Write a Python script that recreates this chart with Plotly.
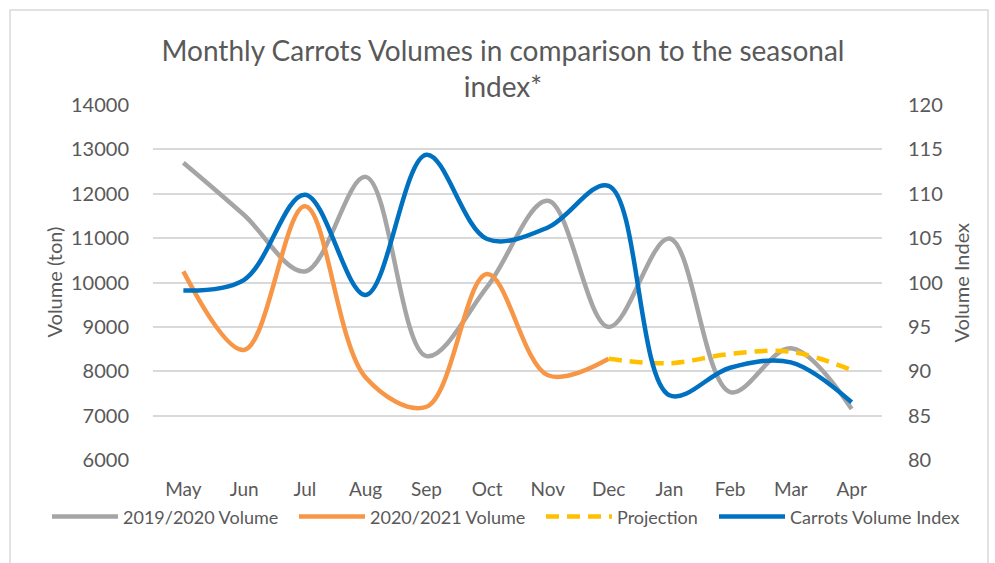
import plotly.graph_objects as go

months = ["May", "Jun", "Jul", "Aug", "Sep", "Oct", "Nov", "Dec", "Jan", "Feb", "Mar", "Apr"]
vol_2019_2020 = [12700, 11520, 10250, 12380, 8340, 9900, 11840, 9000, 10990, 7530, 8520, 7150]
vol_2020_2021 = [10250, 8480, 11720, 7860, 7200, 10190, 7910, 8280, None, None, None, None]
projection = [None, None, None, None, None, None, None, 8280, 8180, 8390, 8440, 8030]
volume_index = [99.1, 100.3, 109.9, 98.6, 114.4, 104.9, 106.2, 110.9, 87.3, 90.4, 91.0, 86.5]

left_ticks = list(range(6000, 14001, 1000))
left_labels = [str(v) for v in left_ticks]
right_ticks = list(range(80, 121, 5))
right_labels = [str(v) for v in right_ticks]

TEXT = "#595959"
FONT = "Lato"
PLOT_L, PLOT_W = 153, 729

fig = go.Figure()
fig.add_trace(go.Scatter(x=months, y=vol_2019_2020, name="2019/2020 Volume", mode="lines", legend="legend",
                         line=dict(color="#A5A5A5", width=4.5, shape="spline", smoothing=1)))
fig.add_trace(go.Scatter(x=months, y=vol_2020_2021, name="2020/2021 Volume", mode="lines", legend="legend2",
                         line=dict(color="#F79646", width=4.5, shape="spline", smoothing=1)))
fig.add_trace(go.Scatter(x=months, y=projection, name="Projection", mode="lines", legend="legend3",
                         line=dict(color="#FFC000", width=4.5, shape="spline", smoothing=1, dash="13px,8px")))
fig.add_trace(go.Scatter(x=months, y=volume_index, name="Carrots Volume Index", mode="lines", yaxis="y2",
                         legend="legend4",
                         line=dict(color="#0070C0", width=4.5, shape="spline", smoothing=1)))


def legend_at(px_left):
    return dict(orientation="h", x=(px_left - PLOT_L) / PLOT_W, xanchor="left", y=-0.16, yanchor="middle",
                font=dict(size=18, color=TEXT, family=FONT), itemwidth=66, bgcolor="rgba(0,0,0,0)")


fig.update_layout(
    width=995, height=563,
    margin=dict(l=153, r=113, t=105, b=103),
    paper_bgcolor="white", plot_bgcolor="white",
    font=dict(family=FONT, color=TEXT, size=18),
    title=dict(text="Monthly Carrots Volumes in comparison to the seasonal<br>index*",
               x=0.5055, xref="container", xanchor="center",
               y=1 - 61 / 563, yref="container", yanchor="middle",
               font=dict(family=FONT, size=28, color=TEXT)),
    xaxis=dict(type="category", range=[-0.5, 11.5], showgrid=False, showline=False, zeroline=False,
               ticks="", tickfont=dict(size=19, color=TEXT), ticklabelstandoff=16, automargin=False),
    yaxis=dict(range=[6000, 14000], tickvals=left_ticks, ticktext=left_labels, showgrid=True,
               gridcolor="#D9D9D9", gridwidth=1.5, automargin=False,
               zeroline=False, showline=False, ticks="", tickfont=dict(size=20, color=TEXT),
               ticklabelstandoff=23),
    yaxis2=dict(range=[80, 120], tickvals=right_ticks, ticktext=right_labels, overlaying="y", side="right",
                showgrid=False, automargin=False,
                zeroline=False, showline=False, ticks="", tickfont=dict(size=20, color=TEXT),
                ticklabelstandoff=25),
    legend=legend_at(47),
    legend2=legend_at(294),
    legend3=legend_at(541),
    legend4=legend_at(714),
    showlegend=True,
)

fig.add_annotation(text="Volume (ton)", textangle=-90, xref="paper", yref="paper",
                   x=(53 - PLOT_L) / PLOT_W, y=0.5, xanchor="center", yanchor="middle", showarrow=False,
                   font=dict(family=FONT, size=20, color=TEXT))
fig.add_annotation(text="Volume Index", textangle=-90, xref="paper", yref="paper",
                   x=(960 - PLOT_L) / PLOT_W, y=0.5, xanchor="center", yanchor="middle", showarrow=False,
                   font=dict(family=FONT, size=20, color=TEXT))

fig.add_shape(type="rect", xref="paper", yref="paper",
              x0=(10 - PLOT_L) / PLOT_W, x1=(988 - PLOT_L) / PLOT_W, y0=-0.33, y1=1 + (105 - 10) / 355,
              line=dict(color="#D9D9D9", width=1.5), fillcolor="rgba(0,0,0,0)", layer="below")

fig.write_html("out.html", config={"displayModeBar": False},
               post_script="document.body.style.margin='0';document.body.style.overflow='hidden';")
